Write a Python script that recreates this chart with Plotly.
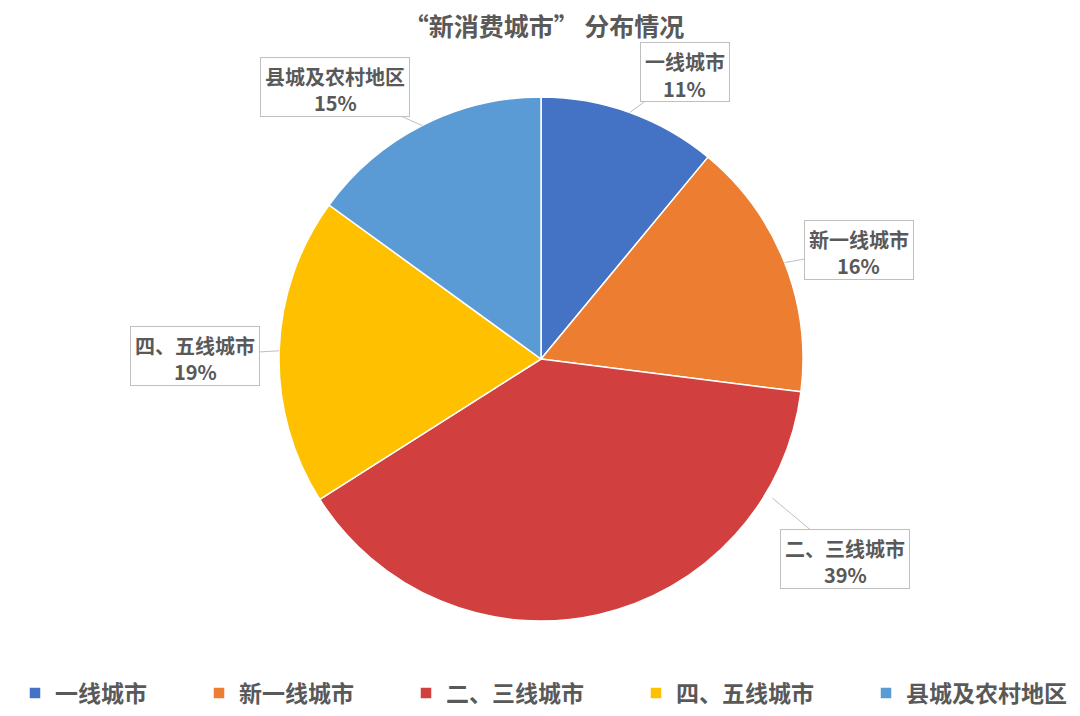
import math
import plotly.graph_objects as go

# data
cities = ['一线城市', '新一线城市', '二、三线城市', '四、五线城市', '县城及农村地区']
shares = [11, 16, 39, 19, 15]
colors = ['#4472C4', '#ED7D31', '#D13F3F', '#FFC000', '#5B9BD5']

# callout boxes: offset (px) of the box from where the pointer touches the pie
box_dx = [55, 74, 73, -84, -87]
box_dy = [-40, -13, 61, 5, -39]
# the big slice's callout points to the slice edge close to its box
pointer_override = {2: (121, 1.03)}

FONT = 'Noto Sans CJK SC'
GREY = '#595959'
OFF = 8                      # page body margin around the figure
W, H = 1080 - 2 * OFF, 716 - 2 * OFF
# pie box in page pixels (left, top, size)
PL, PT, PS = 279 - OFF, 97 - OFF, 524


def fx(px):
    return px / W


def fy(py):
    return 1 - py / H


# wider gaps between legend entries (no padding after the last one)
legend_names = [c + ('\u00a0' * 9 if i < len(cities) - 1 else '')
                for i, c in enumerate(cities)]

trace = go.Pie(labels=legend_names,
               values=shares,
               sort=False,
               direction='clockwise',
               rotation=0,
               marker=dict(colors=colors, line=dict(color='white', width=1.5)),
               textinfo='none',
               hoverinfo='label+percent',
               domain=dict(x=[fx(PL), fx(PL + PS)], y=[fy(PT + PS), fy(PT)]))

# callout labels, placed from the cumulative angle of each slice
# (box + name line, then the percentage as its own line inside the box)
label_font = dict(family=FONT, size=20, color=GREY, weight='bold')
annotations = []
total = sum(shares)
start = 0
for i, (name, v) in enumerate(zip(cities, shares)):
    mid = (start + v / 2) / total * 360
    start += v
    ang, rr = pointer_override.get(i, (mid, 1.0))
    px = PL + PS / 2 + PS / 2 * rr * math.sin(math.radians(ang))
    py = PT + PS / 2 - PS / 2 * rr * math.cos(math.radians(ang))
    annotations.append(dict(
        x=fx(px), y=fy(py), xref='paper', yref='paper',
        text=name, height=50, valign='top',
        showarrow=True, arrowhead=0, arrowwidth=1, arrowcolor='#BFBFBF',
        ax=box_dx[i], ay=box_dy[i], standoff=0,
        bgcolor='white', bordercolor='#BFBFBF', borderwidth=1, borderpad=4,
        font=label_font))
    annotations.append(dict(
        x=fx(px), y=fy(py), xref='paper', yref='paper',
        xanchor='center', yanchor='middle',
        text='%d%%' % round(v / total * 100), showarrow=False,
        xshift=box_dx[i], yshift=-(box_dy[i] + 16),
        font=label_font))

layout = go.Layout(
    width=W, height=H,
    paper_bgcolor='white',
    margin=dict(l=0, r=0, t=0, b=0, autoexpand=False),
    title=dict(text='“新消费城市” 分布情况', x=fx(544 - OFF), y=fy(27 - OFF),
               xanchor='center', yanchor='middle',
               font=dict(family=FONT, size=25, color=GREY, weight='bold')),
    legend=dict(orientation='h', x=fx(15 - OFF), xanchor='left',
                y=fy(693 - OFF), yanchor='middle',
                font=dict(family=FONT, size=23, color=GREY, weight='bold')),
    annotations=annotations,
)

fig = go.Figure(data=[trace], layout=layout)
fig.write_html('out.html')
